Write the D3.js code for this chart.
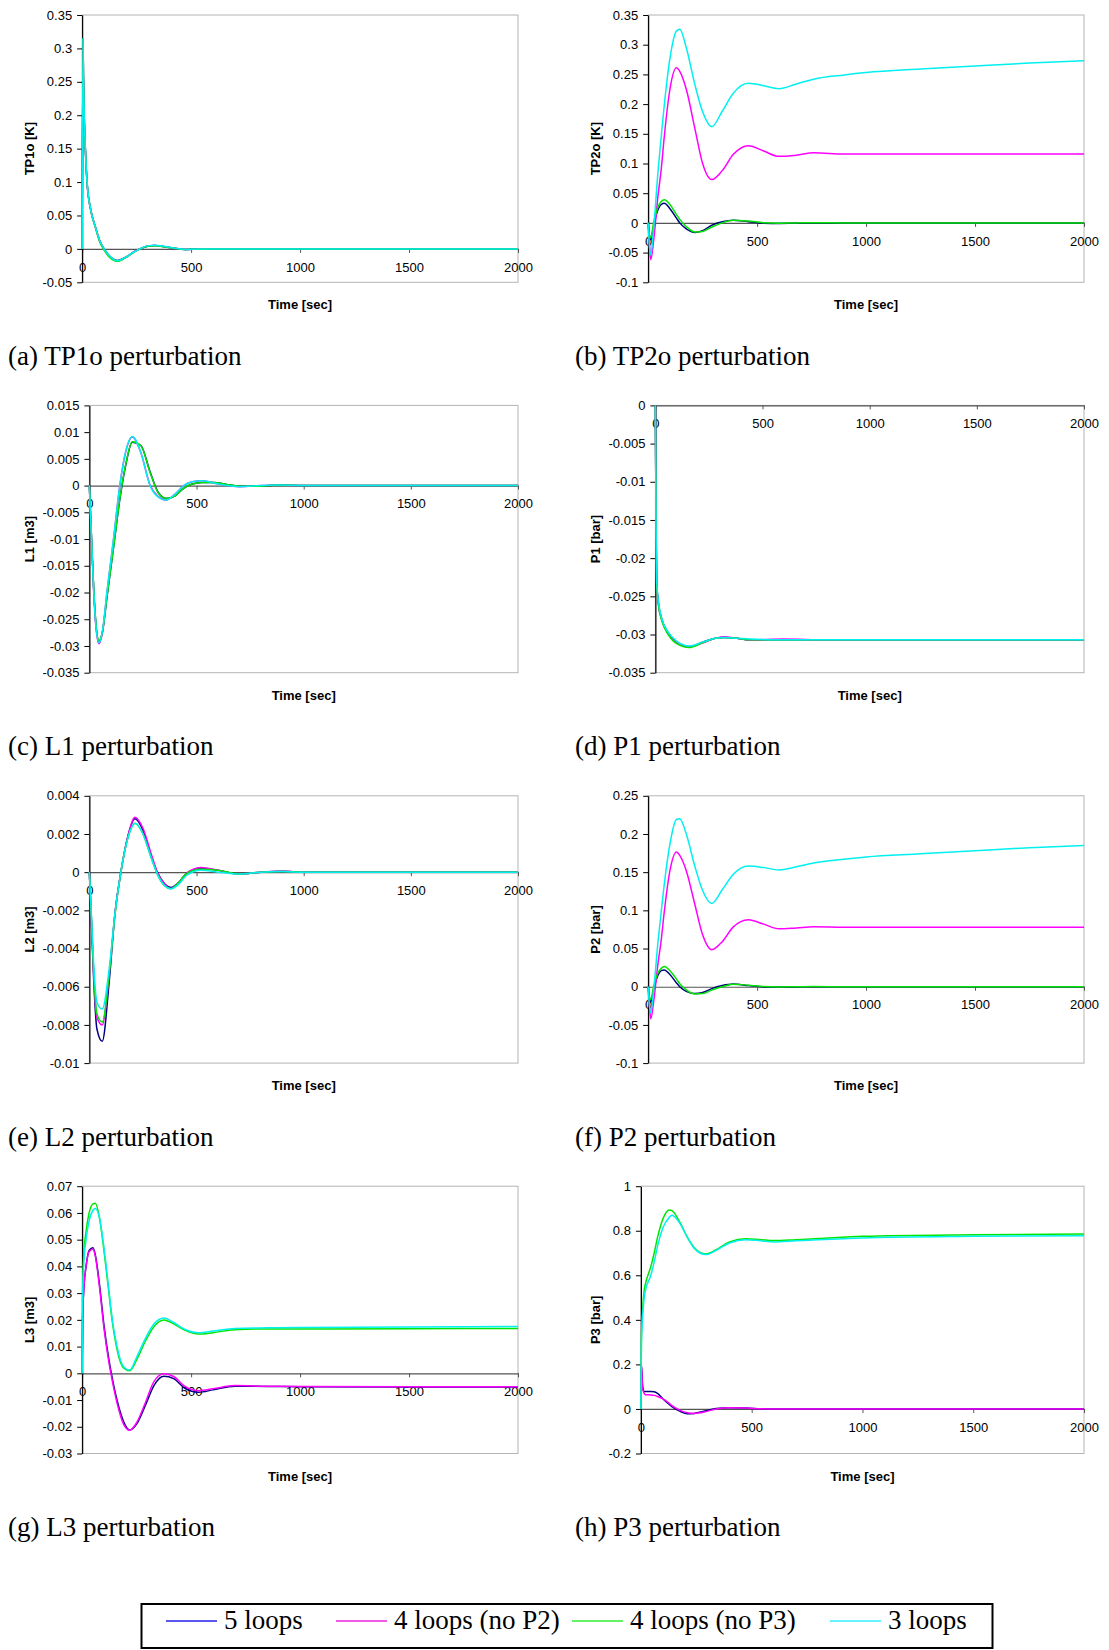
<!DOCTYPE html>
<html>
<head>
<meta charset="utf-8">
<script src="https://cdn.jsdelivr.net/npm/d3@7"></script>
<style>
  body { margin: 0; background: #fff; }
  svg { display: block; }
  .tick text { font-family: 'Liberation Sans', Arial, sans-serif; font-size: 13px; fill: #000; }
  .axis-title { font-family: 'Liberation Sans', Arial, sans-serif; font-size: 13px; font-weight: bold; }
  .caption, .legend text { font-family: 'Liberation Serif', 'Times New Roman', serif; font-size: 27px; }
</style>
</head>
<body>
<svg id="fig" width="1109" height="1650"></svg>
<script>
// series order: 5 loops, 4 loops (no P2), 4 loops (no P3), 3 loops
const seriesNames = ['5 loops', '4 loops (no P2)', '4 loops (no P3)', '3 loops']
const lineColors = ['#000080', '#ff00ff', '#00e600', '#00f0f0']
const legendColors = ['#2020e8', '#ee22dd', '#33ee33', '#33eeff']
const xTicks = [0, 500, 1000, 1500, 2000]

// (a) TP1o
const tp1oTime = [0, 4, 6, 9, 15, 23, 40, 61, 80, 101, 130, 162, 200, 235, 265, 300, 333, 380, 425, 470, 520, 600, 2000]
const tp1o5 = [0, 0.315, 0.258, 0.205, 0.148, 0.098, 0.058, 0.033, 0.013, 0, -0.012, -0.0175, -0.0125, -0.005, 0, 0.004, 0.005, 0.003, 0.001, -0.001, -0.0005, 0, 0]
const tp1oNoP2 = [0, 0.314, 0.256, 0.204, 0.147, 0.097, 0.057, 0.032, 0.012, -0.001, -0.013, -0.018, -0.013, -0.005, 0, 0.0042, 0.0052, 0.003, 0.001, -0.001, -0.0005, 0, 0]
const tp1oNoP3 = [0, 0.315, 0.257, 0.205, 0.148, 0.098, 0.057, 0.032, 0.011, -0.002, -0.014, -0.019, -0.013, -0.0055, 0, 0.0038, 0.0048, 0.003, 0.001, -0.001, -0.0005, 0, 0]
const tp1o3 = [0, 0.316, 0.259, 0.206, 0.149, 0.099, 0.058, 0.033, 0.013, 0, -0.012, -0.0178, -0.0125, -0.005, 0, 0.0045, 0.0055, 0.0035, 0.001, -0.0008, -0.0004, 0, 0]
const tp1oTicks = [-0.05, 0, 0.05, 0.1, 0.15, 0.2, 0.25, 0.3, 0.35]

// (b) TP2o
const tp2oTime = [0, 6, 12, 25, 45, 60, 74, 100, 130, 145, 175, 215, 250, 292, 340, 390, 460, 530, 600, 680, 760, 900, 1000, 1250, 1500, 1750, 2000]
const tp2o5 = [0, -0.022, -0.028, -0.005, 0.022, 0.031, 0.033, 0.024, 0.008, 0, -0.01, -0.016, -0.013, -0.004, 0.002, 0.0045, 0.002, -0.0005, -0.0008, -0.0003, 0, 0, 0, 0, 0, 0, 0]
const tp2oNoP2 = [0, -0.035, -0.062, -0.03, 0.045, 0.09, 0.145, 0.225, 0.261, 0.255, 0.225, 0.158, 0.1, 0.073, 0.088, 0.115, 0.13, 0.121, 0.112, 0.114, 0.118, 0.116, 0.116, 0.116, 0.116, 0.116, 0.116]
const tp2oNoP3 = [0, -0.02, -0.025, 0, 0.027, 0.036, 0.039, 0.031, 0.014, 0.006, -0.006, -0.0155, -0.0145, -0.007, 0, 0.0045, 0.003, 0.0003, -0.0005, 0, 0.0003, 0, 0, 0, 0, 0, 0]
const tp2o3 = [0, -0.04, -0.054, -0.01, 0.085, 0.145, 0.198, 0.277, 0.323, 0.326, 0.295, 0.232, 0.187, 0.162, 0.188, 0.218, 0.235, 0.231, 0.226, 0.234, 0.242, 0.249, 0.253, 0.259, 0.264, 0.269, 0.273]
const tp2oTicks = [-0.1, -0.05, 0, 0.05, 0.1, 0.15, 0.2, 0.25, 0.3, 0.35]

// (c) L1
const l1Time = [0, 10, 20, 30, 45, 60, 83, 112, 142, 170, 200, 240, 283, 320, 358, 400, 440, 480, 525, 580, 640, 700, 800, 880, 1000, 2000]
const l15 = [0, -0.0099, -0.0192, -0.0256, -0.0291, -0.0276, -0.0206, -0.0118, -0.0026, 0.0039, 0.0081, 0.0075, 0.0026, -0.0012, -0.0024, -0.0019, -0.0005, 0.0003, 0.0006, 0.0006, 0.0002, -0.0001, -0.0001, 0.0001, 0, 0]
const l1NoP2 = [0, -0.0101, -0.0197, -0.0262, -0.0296, -0.0277, -0.0197, -0.0103, 0, 0.0064, 0.0091, 0.0062, 0.0001, -0.002, -0.0027, -0.0016, 0, 0.0007, 0.0009, 0.0005, 0, -0.0002, 0, 0.0001, 0, 0]
const l1NoP3 = [0, -0.0098, -0.019, -0.0255, -0.029, -0.0275, -0.0205, -0.0118, -0.0025, 0.004, 0.0082, 0.0075, 0.0025, -0.0013, -0.0024, -0.0019, -0.0005, 0.0003, 0.0006, 0.0006, 0.0002, -0.0001, -0.0001, 0.0001, 0, 0]
const l13 = [0, -0.01, -0.0195, -0.026, -0.0294, -0.0275, -0.0195, -0.0102, 0, 0.0065, 0.0092, 0.0062, 0, -0.0021, -0.0027, -0.0016, 0, 0.0007, 0.0009, 0.0005, 0, -0.0002, 0, 0.0001, 0, 0]
const l1Ticks = [-0.035, -0.03, -0.025, -0.02, -0.015, -0.01, -0.005, 0, 0.005, 0.01, 0.015]

// (d) P1
const p1Time = [0, 3, 6, 15, 30, 60, 100, 158, 220, 280, 322, 380, 440, 600, 800, 2000]
const p15 = [0, -0.015, -0.023, -0.026, -0.028, -0.0298, -0.031, -0.0316, -0.031, -0.0305, -0.0304, -0.0305, -0.0307, -0.0307, -0.0307, -0.0307]
const p1NoP2 = [0, -0.015, -0.0232, -0.0262, -0.0281, -0.0299, -0.0311, -0.0316, -0.0311, -0.0305, -0.0303, -0.0305, -0.0307, -0.0306, -0.0307, -0.0307]
const p1NoP3 = [0, -0.0152, -0.0233, -0.0263, -0.0282, -0.03, -0.0312, -0.0317, -0.0311, -0.0305, -0.0304, -0.0305, -0.0307, -0.0307, -0.0307, -0.0307]
const p13 = [0, -0.0148, -0.0228, -0.0258, -0.0279, -0.0297, -0.0309, -0.0315, -0.031, -0.0305, -0.0304, -0.0305, -0.0306, -0.0307, -0.0307, -0.0307]
const p1Ticks = [-0.035, -0.03, -0.025, -0.02, -0.015, -0.01, -0.005, 0]

// (e) L2
const l2Time = [0, 10, 20, 35, 60, 92, 120, 147, 180, 213, 250, 290, 317, 350, 380, 420, 450, 520, 600, 700, 800, 900, 1000, 2000]
const l25 = [0, -0.0028, -0.0056, -0.0082, -0.00886, -0.0058, -0.0021, 0, 0.0019, 0.0028, 0.0022, 0.0008, 0, -0.0006, -0.0008, -0.0005, -0.0001, 0.0002, 0.0001, -0.0001, 0, 0.00005, 0, 0]
const l2NoP2 = [0, -0.0026, -0.0053, -0.0076, -0.008, -0.0054, -0.0021, 0, 0.0019, 0.00288, 0.0023, 0.0009, 0, -0.0006, -0.00085, -0.0005, -0.0001, 0.00024, 0.0001, -0.0001, 0, 0.00005, 0, 0]
const l2NoP3 = [0, -0.0025, -0.0052, -0.0074, -0.00785, -0.0054, -0.0022, 0, 0.0018, 0.00256, 0.002, 0.0007, -0.0001, -0.0007, -0.00087, -0.0005, -0.0001, 0.00015, 0.0001, -0.0001, 0, 0.00004, 0, 0]
const l23 = [0, -0.0024, -0.0048, -0.0068, -0.00717, -0.0051, -0.0021, 0, 0.0018, 0.00256, 0.002, 0.0007, -0.0001, -0.0007, -0.00087, -0.0006, -0.0002, 0.0001, 0, -0.0001, 0, 0.00003, 0, 0]
const l2Ticks = [-0.01, -0.008, -0.006, -0.004, -0.002, 0, 0.002, 0.004]

// (f) P2
const p2Time = [0, 6, 12, 25, 45, 60, 74, 100, 130, 145, 175, 215, 250, 292, 340, 390, 460, 530, 600, 680, 760, 900, 1000, 1250, 1500, 1750, 2000]
const p25 = [0, -0.015, -0.02, -0.004, 0.015, 0.021, 0.022, 0.016, 0.005, 0, -0.006, -0.009, -0.0075, -0.0025, 0.0015, 0.0035, 0.0015, -0.0003, -0.0005, -0.0002, 0, 0, 0, 0, 0, 0, 0]
const p2NoP2 = [0, -0.025, -0.042, -0.02, 0.03, 0.061, 0.098, 0.152, 0.1765, 0.172, 0.152, 0.107, 0.068, 0.0484, 0.059, 0.078, 0.0876, 0.082, 0.0758, 0.077, 0.0785, 0.078, 0.078, 0.078, 0.078, 0.078, 0.078]
const p2NoP3 = [0, -0.013, -0.017, 0, 0.018, 0.024, 0.0265, 0.021, 0.01, 0.004, -0.004, -0.0095, -0.009, -0.0045, 0, 0.0033, 0.002, 0.0002, -0.0003, 0, 0.0002, 0, 0, 0, 0, 0, 0]
const p23 = [0, -0.025, -0.034, -0.005, 0.058, 0.098, 0.134, 0.187, 0.219, 0.22, 0.2, 0.157, 0.126, 0.109, 0.127, 0.147, 0.158, 0.156, 0.153, 0.157, 0.162, 0.167, 0.17, 0.174, 0.178, 0.182, 0.185]
const p2Ticks = [-0.1, -0.05, 0, 0.05, 0.1, 0.15, 0.2, 0.25]

// (g) L3
const l3Time = [0, 2, 8, 18, 32, 50, 60, 80, 100, 123, 134, 160, 190, 218, 250, 290, 330, 375, 420, 470, 535, 600, 700, 850, 1000, 1500, 2000]
const l35 = [0, 0.02, 0.032, 0.04, 0.046, 0.047, 0.0445, 0.033, 0.018, 0.005, 0, -0.01, -0.018, -0.0212, -0.019, -0.012, -0.0045, -0.0011, -0.002, -0.0055, -0.0071, -0.0062, -0.0048, -0.0049, -0.005, -0.0051, -0.0051]
const l3NoP2 = [0, 0.02, 0.032, 0.04, 0.0455, 0.0465, 0.044, 0.032, 0.017, 0.004, -0.001, -0.011, -0.019, -0.0213, -0.0185, -0.011, -0.003, -0.0002, -0.0012, -0.0048, -0.0065, -0.0058, -0.0046, -0.0048, -0.0049, -0.005, -0.005]
const l3NoP3 = [0, 0.03, 0.045, 0.053, 0.06, 0.0634, 0.0636, 0.058, 0.046, 0.03, 0.022, 0.009, 0.002, 0.001, 0.005, 0.012, 0.0175, 0.0199, 0.0185, 0.0162, 0.0147, 0.0152, 0.0163, 0.0166, 0.0166, 0.0167, 0.0168]
const l33 = [0, 0.028, 0.042, 0.05, 0.057, 0.061, 0.0617, 0.058, 0.047, 0.031, 0.023, 0.01, 0.0025, 0.0012, 0.006, 0.013, 0.0185, 0.0207, 0.019, 0.0165, 0.0152, 0.0158, 0.0168, 0.017, 0.0171, 0.0173, 0.0175]
const l3Ticks = [-0.03, -0.02, -0.01, 0, 0.01, 0.02, 0.03, 0.04, 0.05, 0.06, 0.07]

// (h) P3
const p3Time = [0, 2, 8, 15, 20, 45, 60, 75, 100, 128, 140, 175, 210, 240, 293, 340, 400, 474, 540, 600, 700, 800, 1000, 1500, 2000]
const p35 = [0, 0.2, 0.1, 0.078, 0.078, 0.078, 0.077, 0.07, 0.045, 0.02, 0.01, -0.01, -0.022, -0.02, -0.008, 0.002, 0.005, 0.004, 0.001, 0, 0, 0, 0, 0, 0]
const p3NoP2 = [0, 0.2, 0.09, 0.07, 0.064, 0.063, 0.061, 0.056, 0.045, 0.025, 0.015, -0.005, -0.017, -0.02, -0.012, 0, 0.005, 0.004, 0.001, 0, 0, 0, 0, 0, 0]
const p3NoP3 = [0, 0.3, 0.45, 0.534, 0.56, 0.64, 0.7, 0.77, 0.855, 0.893, 0.89, 0.84, 0.77, 0.725, 0.696, 0.715, 0.75, 0.764, 0.76, 0.756, 0.76, 0.765, 0.775, 0.782, 0.785]
const p33 = [0, 0.28, 0.42, 0.5, 0.53, 0.6, 0.66, 0.73, 0.815, 0.86, 0.87, 0.835, 0.77, 0.722, 0.693, 0.712, 0.745, 0.76, 0.755, 0.75, 0.755, 0.76, 0.768, 0.775, 0.778]
const p3Ticks = [-0.2, 0, 0.2, 0.4, 0.6, 0.8, 1]

const panels = [
  { caption: '(a) TP1o perturbation', yLabel: 'TP1o [K]', time: tp1oTime, series: [tp1o5, tp1oNoP2, tp1oNoP3, tp1o3], ticks: tp1oTicks },
  { caption: '(b) TP2o perturbation', yLabel: 'TP2o [K]', time: tp2oTime, series: [tp2o5, tp2oNoP2, tp2oNoP3, tp2o3], ticks: tp2oTicks },
  { caption: '(c) L1 perturbation', yLabel: 'L1 [m3]', time: l1Time, series: [l15, l1NoP2, l1NoP3, l13], ticks: l1Ticks },
  { caption: '(d) P1 perturbation', yLabel: 'P1 [bar]', time: p1Time, series: [p15, p1NoP2, p1NoP3, p13], ticks: p1Ticks },
  { caption: '(e) L2 perturbation', yLabel: 'L2 [m3]', time: l2Time, series: [l25, l2NoP2, l2NoP3, l23], ticks: l2Ticks },
  { caption: '(f) P2 perturbation', yLabel: 'P2 [bar]', time: p2Time, series: [p25, p2NoP2, p2NoP3, p23], ticks: p2Ticks },
  { caption: '(g) L3 perturbation', yLabel: 'L3 [m3]', time: l3Time, series: [l35, l3NoP2, l3NoP3, l33], ticks: l3Ticks },
  { caption: '(h) P3 perturbation', yLabel: 'P3 [bar]', time: p3Time, series: [p35, p3NoP2, p3NoP3, p33], ticks: p3Ticks }
]

// layout
const colX = [0, 560]
const labelStart = [42, 48]
const plotRight = [518, 1084]
const rowStep = 390.4
const plotTop0 = 15
const plotH = 267.3

const svg = d3.select('#fig')
svg.append('rect').attr('width', 1109).attr('height', 1650).attr('fill', '#fff')

const fmt = (d) => String(+d.toFixed(4))

const measure = svg.append('text').attr('class', 'tick')
  .style('font-family', "'Liberation Sans', Arial, sans-serif").style('font-size', '13px')
const textWidth = (s) => { measure.text(s); return measure.node().getComputedTextLength() }

const line = (x, y) => d3.line()
  .x((d) => x(d[0]))
  .y((d) => y(d[1]))
  .curve(d3.curveMonotoneX)

panels.forEach((p, i) => {
  const col = i % 2
  const row = Math.floor(i / 2)
  const top = plotTop0 + row * rowStep
  const bottom = top + plotH
  const maxW = d3.max(p.ticks.map((t) => textWidth(fmt(t))))
  const left = colX[col] + labelStart[col] + maxW + 10.5
  const right = plotRight[col]

  const x = d3.scaleLinear().domain([0, 2000]).range([left, right])
  const y = d3.scaleLinear().domain(d3.extent(p.ticks)).range([bottom, top])
  const g = svg.append('g')

  g.append('rect')
    .attr('x', left).attr('y', top)
    .attr('width', right - left).attr('height', bottom - top)
    .attr('fill', 'none').attr('stroke', '#b4b4b4').attr('stroke-width', 1)

  const xAxis = g.append('g')
    .attr('transform', `translate(0,${y(0)})`)
    .call(d3.axisBottom(x).tickValues(xTicks).tickSize(4).tickPadding(9.5).tickSizeOuter(0).tickFormat(d3.format('d')))
  xAxis.select('.domain').attr('stroke', '#555').attr('stroke-width', 1.2)
  xAxis.selectAll('.tick line').attr('stroke', '#555')

  const yAxis = g.append('g')
    .attr('transform', `translate(${left},0)`)
    .call(d3.axisLeft(y).tickValues(p.ticks).tickSize(5).tickPadding(5).tickSizeOuter(0).tickFormat(fmt))
  yAxis.select('.domain').attr('stroke', '#000').attr('stroke-width', 1.2)
  yAxis.selectAll('.tick line').attr('stroke', '#000')

  p.series.forEach((vals, k) => {
    const pts = p.time.map((t, j) => [t, vals[j]])
    g.append('path')
      .attr('d', line(x, y)(pts))
      .attr('fill', 'none')
      .attr('stroke', lineColors[k])
      .attr('stroke-width', 1.5)
  })

  g.append('text').attr('class', 'axis-title')
    .attr('x', (left + right) / 2).attr('y', bottom + 27)
    .attr('text-anchor', 'middle')
    .text('Time [sec]')

  const yTitleX = colX[col] + [33.5, 40][col]
  g.append('text').attr('class', 'axis-title')
    .attr('transform', `translate(${yTitleX},${(top + bottom) / 2}) rotate(-90)`)
    .attr('text-anchor', 'middle')
    .text(p.yLabel)

  g.append('text').attr('class', 'caption')
    .attr('x', colX[col] + [8, 15][col]).attr('y', top + 350)
    .text(p.caption)
})

measure.remove()

// legend
const legendItemX = [166, 336, 572, 830]
const legend = svg.append('g').attr('class', 'legend')
legend.append('rect')
  .attr('x', 141.5).attr('y', 1604).attr('width', 851).attr('height', 44)
  .attr('fill', 'none').attr('stroke', '#000').attr('stroke-width', 2)
seriesNames.forEach((name, k) => {
  legend.append('line')
    .attr('x1', legendItemX[k]).attr('x2', legendItemX[k] + 51)
    .attr('y1', 1621).attr('y2', 1621)
    .attr('stroke', legendColors[k]).attr('stroke-width', 1.5)
  legend.append('text')
    .attr('x', legendItemX[k] + 58).attr('y', 1629)
    .text(name)
})
</script>
</body>
</html>
